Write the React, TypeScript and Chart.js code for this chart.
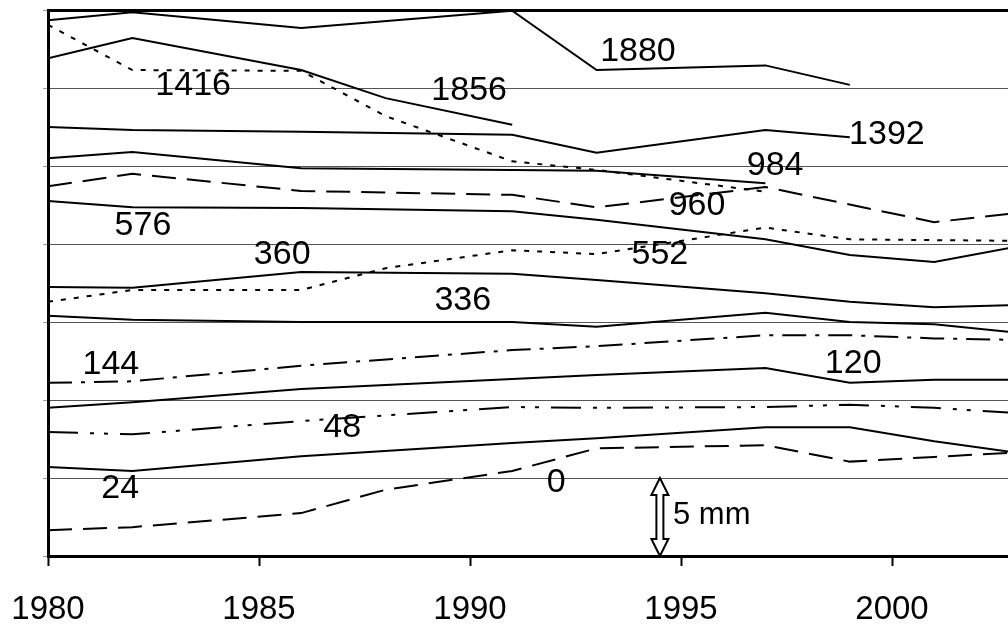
import React, { useEffect, useRef } from 'react';
import { Chart, registerables } from 'chart.js';

Chart.register(...registerables);

// Survey years (x positions of the line vertices)
const years = [1980, 1982, 1986, 1988, 1991, 1993, 1997, 1999, 2001, 2003];
const xTickYears = [1980, 1985, 1990, 1995, 2000];

// Offsets (one grid step = 5 mm); null = no vertex at that year
const s1880 = [6.87, 6.97, 6.77, null, 6.99, 6.23, 6.29, 6.04, null, null];
const s1856 = [6.38, 6.64, 6.23, 5.87, 5.53, null, null, null, null, null];
const s1416 = [6.81, 6.23, 6.22, 5.64, 5.06, 4.95, 4.67, null, null, null];
const s1392 = [5.5, 5.46, 5.44, null, 5.4, 5.17, 5.46, 5.37, null, null];
const s984 = [5.1, 5.18, 4.97, null, 4.95, 4.94, 4.78, null, null, null];
const s960 = [4.74, 4.9, 4.68, null, 4.63, 4.47, 4.73, null, 4.28, 4.4];
const s576 = [4.55, 4.47, 4.46, null, 4.42, 4.31, 4.06, 3.86, 3.77, 3.97];
const s552 = [3.26, 3.41, 3.41, 3.69, 3.92, 3.87, 4.21, 4.06, 4.05, 4.04];
const s360 = [3.45, 3.44, 3.64, null, 3.62, 3.54, 3.37, 3.26, 3.19, 3.22];
const s336 = [3.08, 3.03, 3.0, null, 3.0, 2.94, 3.12, 3.0, 2.97, 2.86];
const s144 = [2.22, 2.24, 2.44, null, 2.64, 2.69, 2.83, 2.83, 2.79, 2.77];
const s120 = [1.9, 1.97, 2.14, null, 2.27, 2.32, 2.41, 2.22, 2.26, 2.26];
const s48 = [1.59, 1.56, 1.73, null, 1.91, 1.9, 1.91, 1.94, 1.9, 1.83];
const s24 = [1.14, 1.09, 1.28, null, 1.45, 1.51, 1.65, 1.65, 1.47, 1.32];
const s0 = [0.33, 0.37, 0.55, 0.85, 1.09, 1.38, 1.42, 1.21, 1.27, 1.33];

// In-plot labels
const labelTexts = ['1880', '1416', '1856', '1392', '984', '960', '576', '360', '552', '336', '144', '120', '48', '24', '0'];
const labelYears = [1993.98, 1983.44, 1989.98, 1999.88, 1997.23, 1995.38, 1982.25, 1985.55, 1994.5, 1989.83, 1981.49, 1999.08, 1986.97, 1981.71, 1992.04];
const labelValues = [6.46, 6.03, 5.97, 5.4, 5.01, 4.49, 4.24, 3.86, 3.86, 3.27, 2.45, 2.47, 1.65, 0.87, 0.94];

// Scale bar
const arrowYear = 1994.5;
const arrowRange = [1, 0];
const scaleText = '5 mm';
const scaleTextAt = [1994.81, 0.52];

const DASHES: Record<string, number[]> = {
  solid: [],
  dotted: [5, 8],
  dash: [24, 11],
  dashDot: [24, 9, 4, 9],
  dashDotDot: [30, 12, 4, 10, 4, 12],
};

const seriesList: { data: (number | null)[]; style: string }[] = [
  { data: s1880, style: 'solid' },
  { data: s1856, style: 'solid' },
  { data: s1416, style: 'dotted' },
  { data: s1392, style: 'solid' },
  { data: s984, style: 'solid' },
  { data: s960, style: 'dash' },
  { data: s576, style: 'solid' },
  { data: s552, style: 'dotted' },
  { data: s360, style: 'solid' },
  { data: s336, style: 'solid' },
  { data: s144, style: 'dashDot' },
  { data: s120, style: 'solid' },
  { data: s48, style: 'dashDotDot' },
  { data: s24, style: 'solid' },
  { data: s0, style: 'dash' },
];

const FONT = '"Liberation Sans", Arial, sans-serif';

const annotationPlugin = {
  id: 'annotations',
  afterDatasetsDraw(chart: any) {
    const { ctx, scales } = chart;
    const x = scales.x;
    const y = scales.y;
    ctx.save();
    ctx.fillStyle = '#000';
    ctx.font = `34px ${FONT}`;
    ctx.textAlign = 'center';
    ctx.textBaseline = 'middle';
    labelTexts.forEach((t, i) => {
      ctx.fillText(t, x.getPixelForValue(labelYears[i]), y.getPixelForValue(labelValues[i]));
    });

    // double arrow
    const cx = x.getPixelForValue(arrowYear);
    const yT = y.getPixelForValue(arrowRange[0]);
    const yB = y.getPixelForValue(arrowRange[1]);
    const hw = 8.5, sw = 3.5, hl = 17;
    ctx.beginPath();
    ctx.moveTo(cx, yT);
    ctx.lineTo(cx + hw, yT + hl);
    ctx.lineTo(cx + sw, yT + hl);
    ctx.lineTo(cx + sw, yB - hl);
    ctx.lineTo(cx + hw, yB - hl);
    ctx.lineTo(cx, yB);
    ctx.lineTo(cx - hw, yB - hl);
    ctx.lineTo(cx - sw, yB - hl);
    ctx.lineTo(cx - sw, yT + hl);
    ctx.lineTo(cx - hw, yT + hl);
    ctx.closePath();
    ctx.fillStyle = '#fff';
    ctx.fill();
    ctx.lineWidth = 2;
    ctx.strokeStyle = '#000';
    ctx.stroke();

    ctx.fillStyle = '#000';
    ctx.font = `31px ${FONT}`;
    ctx.textAlign = 'left';
    ctx.fillText(scaleText, x.getPixelForValue(scaleTextAt[0]), y.getPixelForValue(scaleTextAt[1]));
    ctx.restore();
  },
};

export default function App() {
  const canvasRef = useRef<HTMLCanvasElement | null>(null);

  useEffect(() => {
    if (!canvasRef.current) return;
    const chart = new Chart(canvasRef.current, {
      type: 'line',
      data: {
        datasets: seriesList.map((s) => ({
          data: years.map((yr, i) => ({ x: yr, y: s.data[i] as any })),
          borderColor: '#000',
          borderWidth: 2,
          borderDash: DASHES[s.style],
          pointRadius: 0,
          tension: 0,
          fill: false,
          spanGaps: true,
        })),
      },
      options: {
        animation: false,
        responsive: false,
        layout: { padding: { top: 10, left: 0, right: 0, bottom: 0 } },
        plugins: { legend: { display: false }, tooltip: { enabled: false } },
        scales: {
          x: {
            type: 'linear',
            min: 1980,
            max: 1980 + (1008 - 48) / 42.2,
            afterBuildTicks: (scale: any) => {
              scale.ticks = xTickYears.map((v) => ({ value: v }));
            },
            afterFit: (scale: any) => {
              scale.height = 69;
              scale.paddingLeft = 0;
              scale.paddingRight = 0;
            },
            ticks: {
              autoSkip: false,
              maxRotation: 0,
              padding: 24,
              color: '#000',
              font: { family: FONT, size: 33 },
              callback: (v: any) => String(v),
            },
            grid: {
              display: true,
              drawOnChartArea: false,
              drawTicks: true,
              tickLength: 10,
              tickColor: '#000',
              tickWidth: 2,
            },
            border: { display: true, color: '#000', width: 3 },
          },
          y: {
            type: 'linear',
            min: 0,
            max: 7,
            afterFit: (scale: any) => {
              scale.width = 48;
            },
            ticks: { display: false, stepSize: 1 },
            grid: {
              color: (c: any) => (c.tick && c.tick.value === 7 ? '#000' : '#555'),
              lineWidth: (c: any) => (c.tick && c.tick.value === 7 ? 3 : 1),
              drawTicks: true,
              tickLength: 5,
              tickColor: '#999',
              tickWidth: 1,
            },
            border: { display: true, color: '#000', width: 3 },
          },
        },
      },
      plugins: [annotationPlugin],
    } as any);
    return () => chart.destroy();
  }, []);

  return (
    <div style={{ position: 'fixed', left: 0, top: 0, width: 1008, height: 625, background: '#fff' }}>
      <canvas ref={canvasRef} width={1008} height={625} style={{ display: 'block' }} />
    </div>
  );
}
